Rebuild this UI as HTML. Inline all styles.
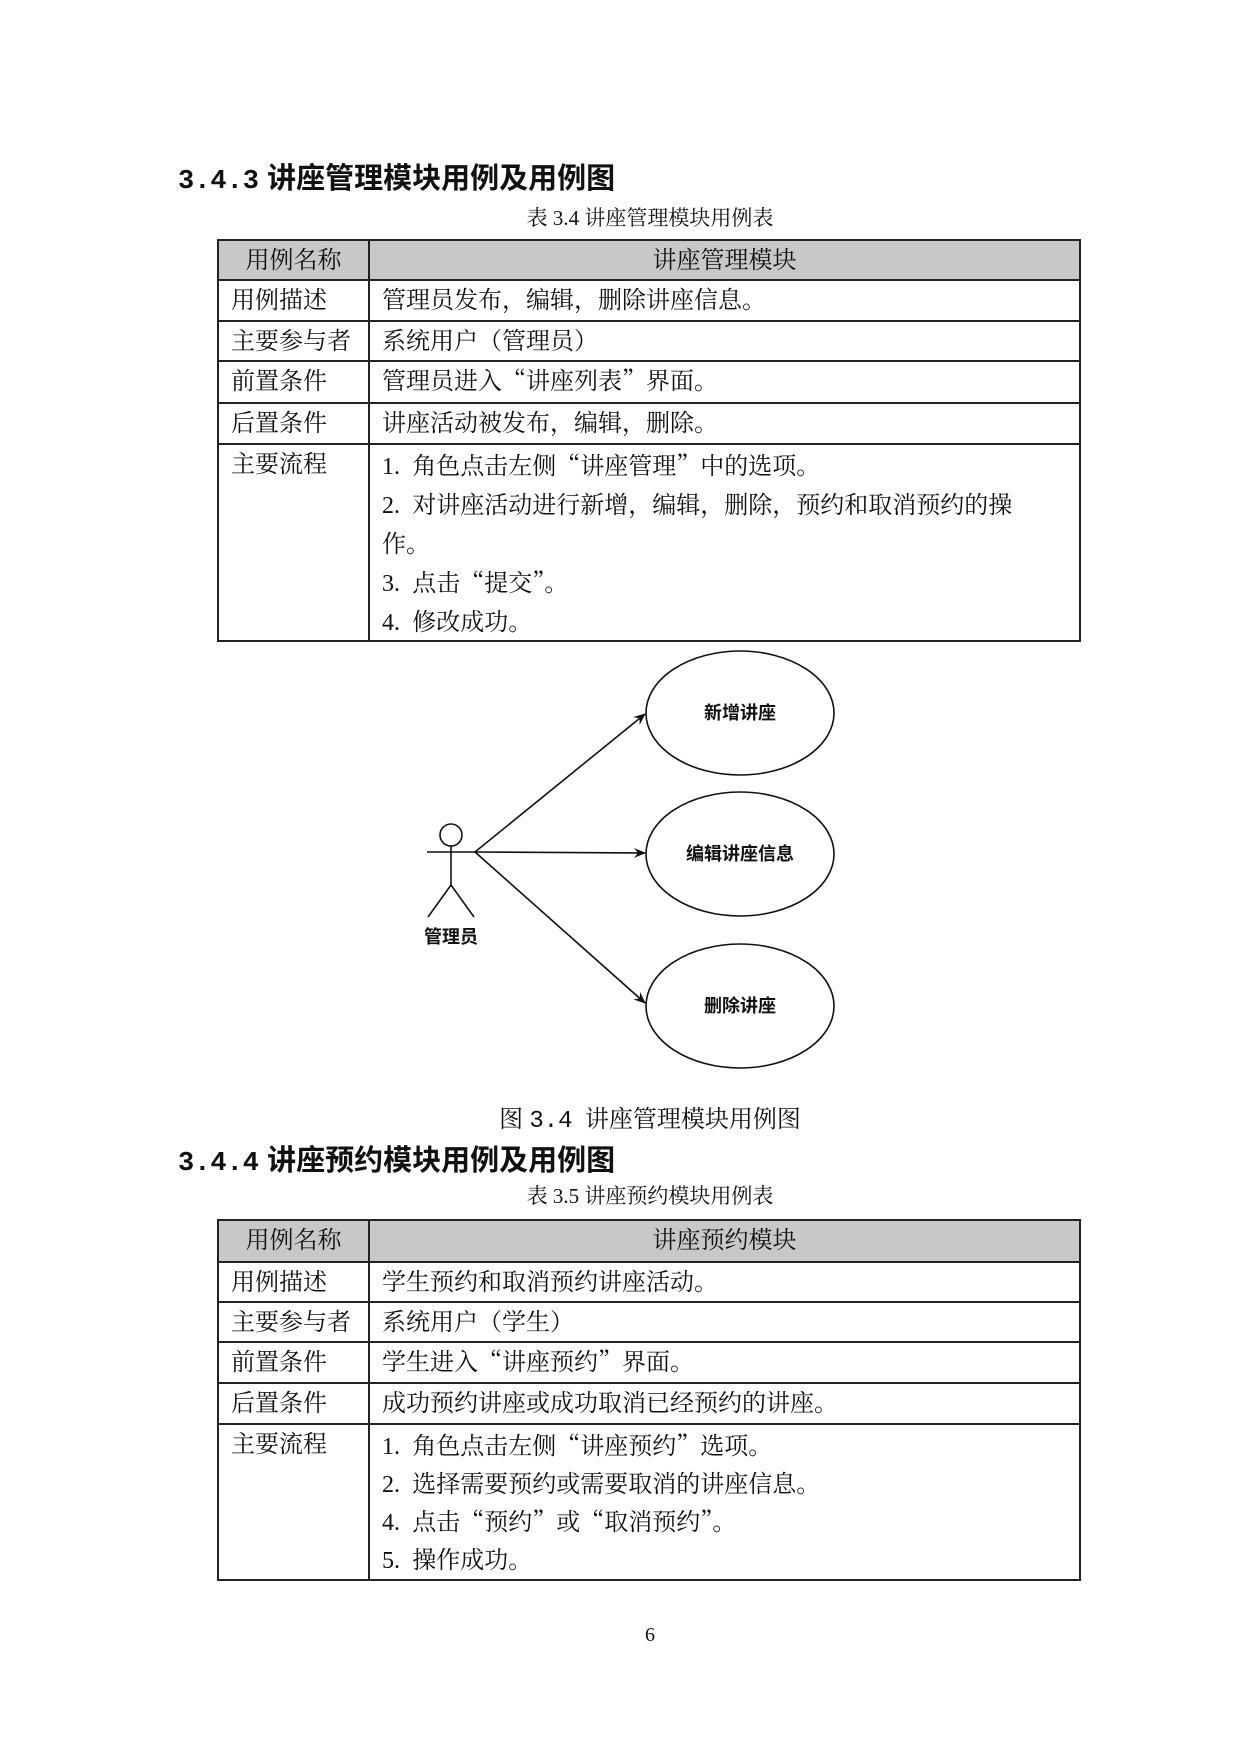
<!DOCTYPE html>
<html><head><meta charset="utf-8">
<style>
body{margin:0;background:#fff;}
#p{position:relative;width:1240px;height:1754px;background:#fff;overflow:hidden;font-family:"Liberation Serif","Noto Serif CJK SC",serif;color:#111;}
.a{position:absolute;white-space:nowrap;}
.h{font-family:"Liberation Sans","Noto Sans CJK SC",sans-serif;font-weight:bold;font-size:29px;line-height:34px;}
.h .n{font-family:"Liberation Mono",monospace;font-size:27px;font-weight:bold;}
.cap{font-size:21px;line-height:24px;transform:translateX(-50%);}
table{position:absolute;border-collapse:collapse;font-size:24px;font-family:"Noto Serif CJK SC","Liberation Serif",serif;table-layout:fixed;}
td{border:2px solid #222;padding:0 0 0 12px;vertical-align:top;}
td div{height:38px;line-height:34px;overflow:hidden;white-space:nowrap;}
tr.hd td{background:#c8c8c8;}
.c{text-align:center;padding:0;}
.d{font-family:"Liberation Serif",serif;}
</style></head><body><div id="p">
<div class="a h" style="left:178px;top:162px;"><span class="n">3.4.3</span> 讲座管理模块用例及用例图</div>
<div class="a cap" style="left:650px;top:206px;">表 3.4 讲座管理模块用例表</div>
<table style="left:217px;top:239px;width:864px;">
<colgroup><col style="width:151px"><col></colgroup>
<tr class="hd" style="height:40px"><td class="c"><div>用例名称</div></td><td class="c"><div>讲座管理模块</div></td></tr>
<tr style="height:41px"><td><div>用例描述</div></td><td><div>管理员发布，编辑，删除讲座信息。</div></td></tr>
<tr style="height:40px"><td><div>主要参与者</div></td><td><div>系统用户（管理员）</div></td></tr>
<tr style="height:42px"><td><div>前置条件</div></td><td><div>管理员进入“讲座列表”界面。</div></td></tr>
<tr style="height:41px"><td><div>后置条件</div></td><td><div>讲座活动被发布，编辑，删除。</div></td></tr>
<tr style="height:197px"><td><div>主要流程</div></td><td style="padding-top:2px"><div style="height:39px"><span class="d">1.</span>&nbsp; 角色点击左侧“讲座管理”中的选项。</div><div style="height:39px"><span class="d">2.</span>&nbsp; 对讲座活动进行新增，编辑，删除，预约和取消预约的操</div><div style="height:39px">作。</div><div style="height:39px"><span class="d">3.</span>&nbsp; 点击“提交”。</div><div style="height:34px"><span class="d">4.</span>&nbsp; 修改成功。</div></td></tr>
</table>
<svg class="a" style="left:0;top:0;" width="1240" height="1754">
<defs><marker id="ar" markerWidth="12" markerHeight="10" refX="11" refY="5" orient="auto" markerUnits="userSpaceOnUse"><path d="M0,0 L12,5 L0,10 L4,5 z" fill="#111"/></marker></defs>
<g fill="none" stroke="#111" stroke-width="1.6">
<ellipse cx="740" cy="713" rx="94" ry="62"/>
<ellipse cx="740" cy="854" rx="94" ry="62"/>
<ellipse cx="740" cy="1006" rx="94" ry="62"/>
<circle cx="451" cy="835" r="11"/>
<line x1="427" y1="852" x2="475" y2="852"/>
<line x1="451" y1="846" x2="451" y2="885"/>
<line x1="451" y1="885" x2="428" y2="917"/>
<line x1="451" y1="885" x2="474" y2="917"/>
<line x1="475" y1="852" x2="645" y2="714" marker-end="url(#ar)"/>
<line x1="475" y1="852" x2="645" y2="853" marker-end="url(#ar)"/>
<line x1="475" y1="852" x2="645" y2="1003" marker-end="url(#ar)"/>
</g>
<g font-family="Liberation Sans,Noto Sans CJK SC,sans-serif" font-weight="bold" font-size="18" text-anchor="middle" fill="#111">
<text x="740" y="719">新增讲座</text>
<text x="740" y="860">编辑讲座信息</text>
<text x="740" y="1012">删除讲座</text>
<text x="451" y="943">管理员</text>
</g>
</svg>
<div class="a" style="left:650px;top:1102px;transform:translateX(-50%);font-size:24px;line-height:30px;font-family:'Noto Serif CJK SC',serif;">图 <span style="font-family:'Liberation Mono',monospace;">3.4</span>&nbsp; 讲座管理模块用例图</div>
<div class="a h" style="left:178px;top:1144px;"><span class="n">3.4.4</span> 讲座预约模块用例及用例图</div>
<div class="a cap" style="left:650px;top:1184px;">表 3.5 讲座预约模块用例表</div>
<table style="left:217px;top:1219px;width:864px;">
<colgroup><col style="width:151px"><col></colgroup>
<tr class="hd" style="height:42px"><td class="c"><div>用例名称</div></td><td class="c"><div>讲座预约模块</div></td></tr>
<tr style="height:40px"><td><div>用例描述</div></td><td><div>学生预约和取消预约讲座活动。</div></td></tr>
<tr style="height:40px"><td><div>主要参与者</div></td><td><div>系统用户（学生）</div></td></tr>
<tr style="height:41px"><td><div>前置条件</div></td><td><div>学生进入“讲座预约”界面。</div></td></tr>
<tr style="height:41px"><td><div>后置条件</div></td><td><div>成功预约讲座或成功取消已经预约的讲座。</div></td></tr>
<tr style="height:156px"><td><div>主要流程</div></td><td style="padding-top:2px"><div><span class="d">1.</span>&nbsp; 角色点击左侧“讲座预约”选项。</div><div><span class="d">2.</span>&nbsp; 选择需要预约或需要取消的讲座信息。</div><div><span class="d">4.</span>&nbsp; 点击“预约”或“取消预约”。</div><div style="height:34px"><span class="d">5.</span>&nbsp; 操作成功。</div></td></tr>
</table>
<div class="a" style="left:650px;top:1624px;transform:translateX(-50%);font-size:20px;">6</div>
</div></body></html>
